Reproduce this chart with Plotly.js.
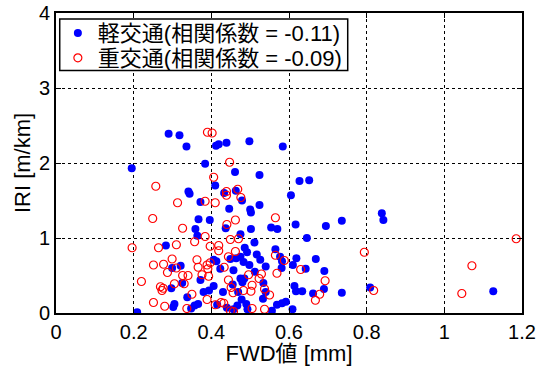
<!DOCTYPE html>
<html>
<head>
<meta charset="utf-8">
<script src="https://cdn.plot.ly/plotly-3.0.1.min.js"></script>
<style>html,body{margin:0;padding:0;background:#fff}#chart{width:544px;height:366px}</style>
</head>
<body>
<div id="chart"></div>
<script>
// Light traffic (軽交通) – FWD value [mm]
const lightX = [0.195,0.290,0.318,0.336,0.384,0.412,0.419,0.439,0.498,0.584,0.461,0.524,0.627,0.652,0.605,
0.410,0.341,0.344,0.372,0.446,0.433,0.463,0.479,0.524,0.500,0.736,0.839,0.843,0.736,0.809,1.126,
0.617,0.695,0.570,0.646,0.565,0.577,0.582,0.581,0.619,0.610,0.669,0.643,0.691,0.614,0.618,0.634,0.662,0.690,
0.582,0.592,0.609,0.502,0.396,0.502,0.554,0.437,0.475,0.486,0.517,0.475,0.464,0.406,0.413,0.449,0.526,0.483,
0.498,0.540,0.423,0.457,0.512,0.475,0.485,0.480,0.406,0.455,0.534,0.372,0.380,0.394,0.430,0.469,0.540,0.478,
0.490,0.533,0.415,0.440,0.457,0.493,0.569,0.556,0.367,0.359,0.364,0.283,0.321,0.299,0.325,0.297,0.338,0.305,
0.302,0.348,0.357,0.366,0.209,0.467,0.511,0.492];
// Light traffic – IRI [m/km]
const lightY = [1.93,2.39,2.37,2.22,1.99,2.23,2.25,2.27,2.29,2.22,1.88,1.84,1.76,1.77,1.57,
1.70,1.62,1.59,1.48,1.39,1.60,1.63,1.50,1.44,1.38,1.23,1.33,1.24,0.27,0.34,0.29,
1.18,1.16,1.12,1.00,0.85,0.75,0.69,0.60,0.73,0.64,0.72,0.59,0.56,0.36,0.29,0.29,0.26,0.32,
0.13,0.15,0.05,1.34,1.24,1.12,1.14,1.13,1.05,0.87,0.78,0.75,0.73,0.71,0.69,0.72,0.71,0.68,
0.64,0.62,0.59,0.57,0.55,0.46,0.46,0.41,0.36,0.38,0.40,0.44,0.28,0.30,0.28,0.28,0.28,0.18,
0.12,0.19,0.11,0.07,0.05,0.05,0.11,0.03,1.25,1.12,1.03,0.90,0.63,0.60,0.40,0.33,0.21,0.12,
0.08,0.06,0.10,0.12,0.01,0.10,0.94,0.81];

// Heavy traffic (重交通) – FWD value [mm]
const heavyX = [0.390,0.402,0.447,0.406,0.257,0.313,0.384,0.410,0.439,0.439,0.468,0.476,0.794,1.185,1.071,
0.818,1.045,0.565,0.588,0.630,0.693,0.679,0.668,0.569,0.565,0.462,0.440,0.384,0.449,0.470,0.397,0.419,
0.419,0.444,0.433,0.397,0.389,0.391,0.393,0.496,0.529,0.523,0.505,0.444,0.451,0.456,0.502,0.483,0.550,
0.389,0.410,0.425,0.432,0.449,0.457,0.505,0.537,0.249,0.326,0.196,0.264,0.310,0.357,0.251,0.277,0.299,
0.310,0.287,0.363,0.366,0.376,0.326,0.340,0.220,0.269,0.276,0.273,0.305,0.330,0.350,0.251,0.280,0.337,
0.462,0.537];
// Heavy traffic – IRI [m/km]
const heavyY = [2.41,2.40,2.01,1.81,1.69,1.47,1.49,1.47,1.62,1.57,1.65,1.54,0.81,0.99,0.63,
0.30,0.26,1.27,0.70,0.58,0.43,0.25,0.17,0.53,0.77,1.24,1.18,1.02,0.98,0.99,0.89,0.90,
0.83,0.75,0.61,0.67,0.64,0.59,0.49,0.51,0.52,0.46,0.37,0.44,0.34,0.27,0.29,0.30,0.24,
0.18,0.11,0.14,0.13,0.03,0.02,0.06,0.05,1.26,1.13,0.87,0.87,0.91,0.95,0.64,0.65,0.72,
0.60,0.54,0.71,0.61,0.51,0.50,0.50,0.42,0.35,0.33,0.30,0.39,0.39,0.25,0.14,0.09,0.06,
0.82,0.32];

const legendNames = ['軽交通(相関係数 = -0.11)', '重交通(相関係数 = -0.09)'];
const xTitle = 'FWD値 [mm]';
const yTitle = 'IRI [m/km]';

const FONT = 'Liberation Sans, Arial, "Noto Sans CJK JP", sans-serif';

const traces = [
  {x: lightX, y: lightY, type: 'scatter', mode: 'markers', name: legendNames[0], legend: 'legend',
   marker: {symbol: 'circle', size: 8, color: 'rgb(0,0,255)'}},
  {x: heavyX, y: heavyY, type: 'scatter', mode: 'markers', name: legendNames[1], legend: 'legend2',
   marker: {symbol: 'circle-open', size: 8, color: 'rgb(255,0,0)', line: {width: 1.2}}}
];

const axisCommon = {
  showline: true, linecolor: '#000', linewidth: 2, mirror: 'ticks',
  ticks: 'inside', ticklen: 5, tickcolor: '#000', tickwidth: 1,
  showgrid: true, gridcolor: '#000', gridwidth: 1, griddash: '3px,3px',
  zeroline: false, tickfont: {family: FONT, size: 20, color: '#000'}
};

const legFont = {family: FONT, size: 22, color: '#000'};
const legCommon = {xanchor: 'left', yanchor: 'middle', bgcolor: 'rgba(0,0,0,0)',
  borderwidth: 0, font: legFont};

const layout = {
  width: 544, height: 366,
  margin: {l: 56, r: 22, t: 13, b: 53},
  paper_bgcolor: '#fff', plot_bgcolor: '#fff',
  font: {family: FONT, color: '#000'},
  showlegend: true,
  legend: Object.assign({}, legCommon, {x: 0.004, y: 0.933}),
  legend2: Object.assign({}, legCommon, {x: 0.004, y: 0.850}),
  shapes: [{type: 'rect', xref: 'paper', yref: 'paper', x0: 0.008, x1: 0.626, y0: 0.808, y1: 0.980,
    line: {color: '#000', width: 1.5}, fillcolor: '#fff', layer: 'above'}],
  xaxis: Object.assign({}, axisCommon, {range: [0, 1.2], dtick: 0.2, tick0: 0,
    title: {text: xTitle, font: {family: FONT, size: 22, color: '#000'}, standoff: 4}}),
  yaxis: Object.assign({}, axisCommon, {range: [0, 4], dtick: 1, tick0: 0,
    title: {text: yTitle, font: {family: FONT, size: 22, color: '#000'}, standoff: 2}})
};

Plotly.newPlot('chart', traces, layout, {staticPlot: true, displayModeBar: false});
</script>
</body>
</html>
